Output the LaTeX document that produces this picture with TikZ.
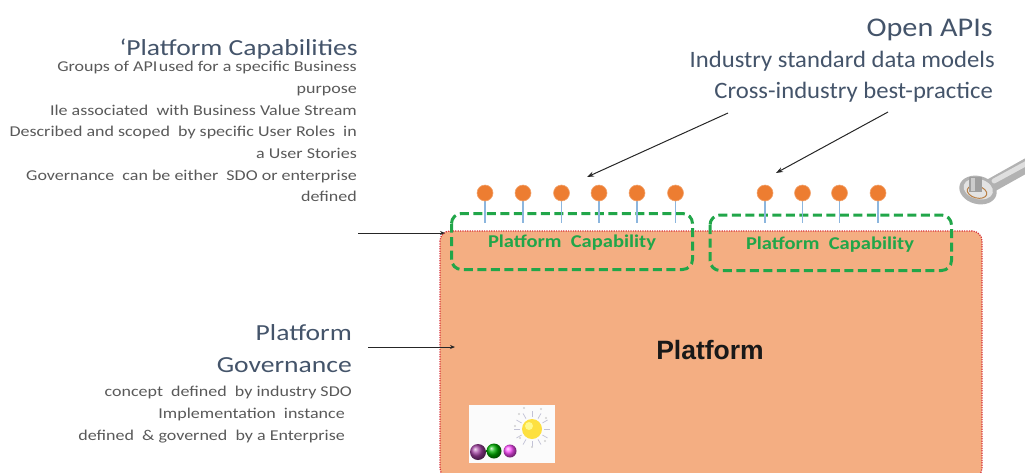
\documentclass[tikz,border=0pt]{standalone}
\usepackage{fontspec}
\setmainfont{Carlito}
\newfontfamily\arialfont{Liberation Sans}
\newfontfamily\wideA[FakeStretch=1.2]{Carlito}
\newfontfamily\wideB[FakeStretch=1.12]{Carlito}
\newfontfamily\wideC[FakeStretch=1.05]{Carlito}
\newfontfamily\wideG[FakeStretch=1.14]{Carlito}
\usetikzlibrary{arrows.meta}

\definecolor{platfill}{RGB}{244,174,130}
\definecolor{platedge}{RGB}{215,50,60}
\definecolor{capgreen}{RGB}{33,166,73}
\definecolor{apiorange}{RGB}{237,125,49}
\definecolor{stemblue}{RGB}{140,182,222}
\definecolor{headcol}{RGB}{68,84,106}
\definecolor{bodycol}{RGB}{89,89,89}

\tikzset{
  headtxt/.style={anchor=base east, inner sep=0pt, text=headcol},
  bodytxt/.style={anchor=base east, inner sep=0pt, text=bodycol, font=\wideA\fontsize{15}{18}\selectfont},
  capbox/.style={draw=capgreen, line width=3pt, dash pattern=on 9pt off 4.5pt, rounded corners=10pt},
  captxt/.style={text=capgreen, font=\wideG\bfseries\fontsize{18}{20}\selectfont, inner sep=0pt, anchor=base},
  api/.style={circle, fill=apiorange, draw=apiorange!70!white, line width=0.6pt, minimum size=16pt, inner sep=0pt},
  stem/.style={draw=stemblue, line width=1.2pt},
  pointer/.style={draw=black!85, line width=1pt, -{Stealth[length=7pt,width=5pt]}}
}

\begin{document}
\begin{tikzpicture}[x=1pt, y=-1pt]
\useasboundingbox (0,0) rectangle (1025,472);

% platform body
\draw[fill=platfill, draw=platedge, line width=1.2pt, dash pattern=on 1.2pt off 1.2pt, rounded corners=10pt]
  (440,231) rectangle (982,478);
\node[font=\arialfont\bfseries\fontsize{26.5}{28}\selectfont, text=black!90, inner sep=0pt, anchor=base]
  (platform) at (710,359) {Platform};

% capability groups
\draw[capbox] (451.5,213.5) rectangle (692.5,269.5);
\draw[capbox] (710,215) rectangle (951.5,270.5);
\node[captxt] (capA) at (572,247.5) {Platform\ \ Capability};
\node[captxt] (capB) at (830,249) {Platform\ \ Capability};

% API lollipops
\foreach \i/\x in {1/485,2/523,3/561.5,4/599,5/637,6/675.5,7/765,8/802.5,9/839.5,10/878}{
  \coordinate (foot\i) at (\x,223);
  \draw[stem] (\x,200) -- (foot\i);
  \node[api] (api\i) at (\x,193) {};
}

% picture in the corner of the platform
\fill[white!97!gray] (469,405) rectangle (555,463);
\foreach \a in {0,30,...,330}{
  \draw[blue!20!gray!40, line width=0.7pt] (532,429) ++(\a:12) -- ++(\a:6);
}
\foreach \p in {(519,414),(524,408),(541,409),(546,418),(520,438),(545,441),(532,447),(515,426)}{
  \fill[gray!35] \p circle (1.2pt);
}
\fill[yellow!75!orange!75!white] (532,429) circle (10pt);
\fill[yellow!45!white] (529,426) circle (4pt);
\shade[ball color=violet!75] (478,452) circle (8pt);
\shade[ball color=green!70!black] (494,451) circle (7.5pt);
\shade[ball color=magenta!70] (510,451) circle (6.5pt);

% wrench
\draw[gray!60, line width=14pt, line cap=round] (990,186) -- (1040,158);
\draw[gray!25, line width=5pt, line cap=round] (994,181) -- (1040,156);
\fill[rotate around={-15:(978,190)}, gray!60] (978,190) ellipse (19pt and 14pt);
\fill[rotate around={-15:(978,190)}, gray!22] (978,189) ellipse (15pt and 10pt);
\draw[orange!45!gray, line width=1pt, rotate around={-15:(977,192)}] (977,192) ellipse (10pt and 6pt);
\fill[gray!75] (969,177) rectangle (982,192);
\fill[gray!40] (971,178) rectangle (975,191);

% Open APIs
\node[headtxt, font=\wideB\fontsize{27}{30}\selectfont] (oapi) at (993,36) {Open APIs};
\node[headtxt, font=\wideC\fontsize{23.5}{26}\selectfont] (oapi1) at (995,67) {Industry standard data models};
\node[headtxt, font=\wideC\fontsize{23.5}{26}\selectfont] (oapi2) at (993,98) {Cross-industry best-practice};
\coordinate (ptA) at (728,113);
\coordinate (ptB) at (888,112);
\coordinate (tipA) at (587,177);
\coordinate (tipB) at (776,173);
\draw[pointer] (ptA) -- (tipA);
\draw[pointer] (ptB) -- (tipB);

% Platform capabilities
\node[headtxt, font=\wideA\fontsize{23}{26}\selectfont] (pcap) at (358,55) {‘Platform Capabilities};
\foreach \i/\y/\t in {1/71.7/{Groups of API\hspace{1.5pt}used for a specific Business},
                      2/93.3/{purpose},
                      3/115/{Ile associated\ \ with Business Value Stream},
                      4/136.7/{Described and scoped\ \ by specific User Roles\ \ in},
                      5/158.3/{a User Stories},
                      6/180/{Governance\ \ can be either\ \ SDO or enterprise},
                      7/201.7/{defined}}{
  \node[bodytxt] (pcap\i) at (357,\y) {\t};
}
\coordinate (pcapfrom) at (358,233);
\coordinate (pcapto) at (445,233);
\draw[pointer, line width=0.9pt, -{Stealth[length=5pt,width=4pt]}] (pcapfrom) -- (pcapto);

% Platform governance
\node[headtxt, font=\wideA\fontsize{23}{26}\selectfont] (gov1) at (352,340) {Platform};
\node[headtxt, font=\wideA\fontsize{23}{26}\selectfont] (gov2) at (352,372) {Governance};
\node[bodytxt] (gov3) at (352,396.7) {concept\ \ defined\ \ by industry SDO};
\node[bodytxt] (gov4) at (345,418) {Implementation\ \ instance};
\node[bodytxt] (gov5) at (345,440) {defined\ \ \& governed\ \ by a Enterprise};
\coordinate (govfrom) at (368,347);
\coordinate (govto) at (455,347);
\draw[pointer, line width=0.9pt, -{Stealth[length=5pt,width=4pt]}] (govfrom) -- (govto);
\end{tikzpicture}
\end{document}
